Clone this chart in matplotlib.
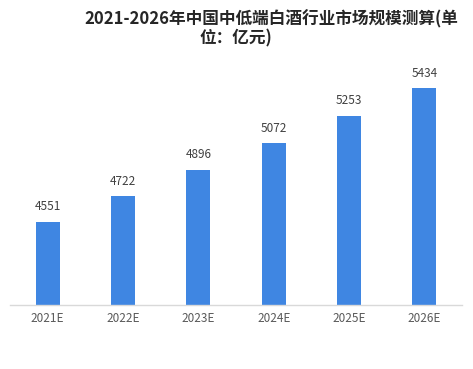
import matplotlib
matplotlib.use("Agg")
from matplotlib import pyplot as plt

plt.rcParams['font.family'] = ['Noto Sans CJK SC', 'DejaVu Sans']

years = ["2021E", "2022E", "2023E", "2024E", "2025E", "2026E"]
values = [4551, 4722, 4896, 5072, 5253, 5434]

fig = plt.figure(figsize=(4.73, 3.69), dpi=100)
ax = fig.add_axes([0.021, 0.173, 0.956, 0.656])

x = range(len(years))
bars = ax.bar(x, values, width=0.32, color="#3f86e2", zorder=2)
for xi, v in zip(x, values):
    ax.text(xi, v + 55, str(v), ha="center", va="bottom", fontsize=8.5, color="#404040")

ax.set_xlim(-0.5, 5.5)
ax.set_ylim(4000, 5600)
ax.set_xticks(list(x))
ax.set_xticklabels(years, fontsize=8.5, color="#595959")
ax.set_yticks([])
ax.tick_params(axis="x", length=0, pad=5)
for side in ["top", "left", "right"]:
    ax.spines[side].set_visible(False)
ax.spines["bottom"].set_color("#d9d9d9")
ax.spines["bottom"].set_linewidth(1)

# title wraps in the original, second line centered
fig.text(84 / 473, 1 - 19 / 369, "2021-2026年中国中低端白酒行业市场规模测算(单",
         ha="left", va="center", fontsize=12, fontweight="bold", color="#262626")
fig.text(236 / 473, 1 - 38 / 369, "位：亿元)",
         ha="center", va="center", fontsize=12, fontweight="bold", color="#262626")

plt.savefig("out.png", dpi=100)
plt.close()
